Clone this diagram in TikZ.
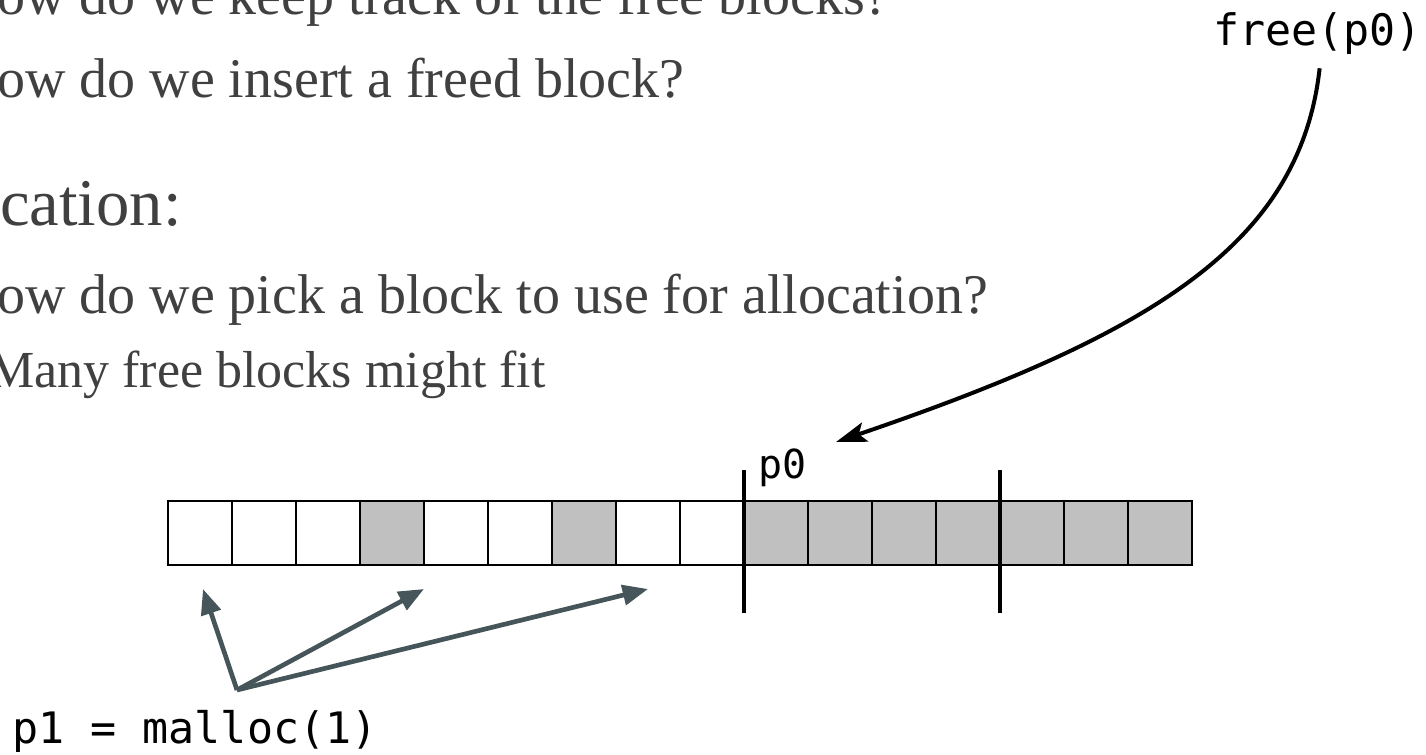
\documentclass[tikz,border=0pt]{standalone}
\usepackage{fontspec}
\setmainfont{Liberation Serif}
\setmonofont{DejaVu Sans Mono}
\usetikzlibrary{arrows.meta,calc}
\definecolor{slidetext}{HTML}{404040}
\definecolor{arrowgray}{HTML}{465559}
\definecolor{usedgray}{HTML}{C0C0C0}
\tikzset{
  cell/.style={draw=black,line width=1.2pt,minimum width=48pt,minimum height=48pt,inner sep=0pt,outer sep=0pt},
  used/.style={cell,fill=usedgray},
  marker/.style={line width=3pt},
  pick/.style={draw=arrowgray,line width=3.5pt,-{Triangle[length=19pt,width=15pt]}},
  freeing/.style={line width=3pt,-{Stealth[length=23pt,width=15pt,inset=5pt]}},
  bullet/.style={anchor=base west,text=slidetext,inner sep=0pt},
  code/.style={anchor=base west,inner sep=0pt,font=\ttfamily\fontsize{32.5}{38}\selectfont},
}
\begin{document}
\begin{tikzpicture}[x=0.75pt,y=-0.75pt]
\useasboundingbox (0,0) rectangle (1426,754);
\clip (0,0) rectangle (1426,754);
% slide text, cut at the left
\node[bullet,font=\fontsize{42}{50}\selectfont] (track) at (-3,14) {ow do we keep track of the free blocks?};
\node[bullet,font=\fontsize{42}{50}\selectfont] (insert) at (-3,97) {ow do we insert a freed block?};
\node[bullet,font=\fontsize{50}{58}\selectfont] (alloc) at (0,225) {cation:};
\node[bullet,font=\fontsize{42}{50}\selectfont] (pickq) at (-3,313) {ow do we pick a block to use for allocation?};
\node[bullet,font=\fontsize{39}{46}\selectfont] (fit) at (-12,387) {Many free blocks might fit};
% heap blocks
\foreach \s [count=\i from 0] in {cell,cell,cell,used,cell,cell,used,cell,cell,used,used,used,used,used,used,used}
  \node[\s] (c\i) at (200+64*\i,533) {};
\draw[marker] ($(c9.north west)+(0,-31)$) -- ($(c9.south west)+(0,48)$);
\draw[marker] ($(c13.north west)+(0,-31)$) -- ($(c13.south west)+(0,48)$);
\node[code,font=\ttfamily\fontsize{30}{35}\selectfont] (p0) at (758,478) {p0};
% free call
\node[code] (freecall) at (1213,45) {free(p0)};
\coordinate (p0tip) at (836,442);
\draw[freeing] ($(freecall.south)+(2,14)$) .. controls (1300,245) and (1150,335) .. (p0tip);
% malloc call and candidate blocks
\node[code] (malloc) at (12,743) {p1 = malloc(1)};
\coordinate (fork) at (237,690);
\coordinate (hit0) at (203,589);
\coordinate (hit1) at (424,589);
\coordinate (hit2) at (648,589);
\foreach \h in {hit0,hit1,hit2}
  \draw[pick] (fork) -- (\h);
\end{tikzpicture}
\end{document}
